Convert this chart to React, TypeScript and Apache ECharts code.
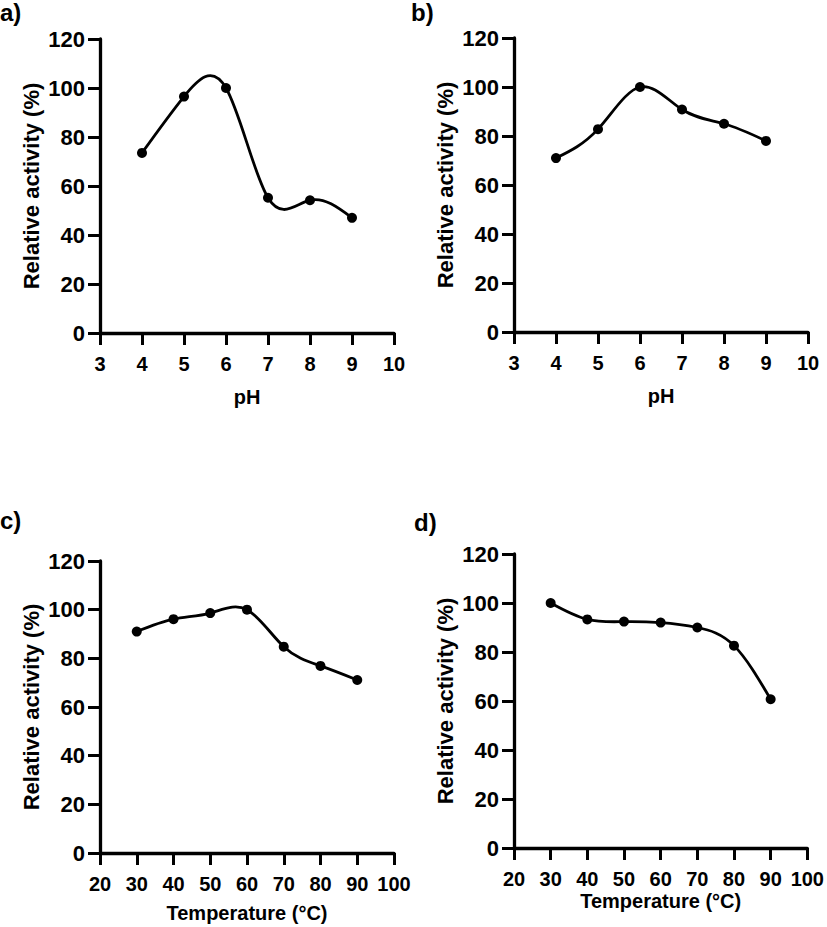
import React, { useEffect, useRef } from "react";
import * as echarts from "echarts";

const phValues = [4, 5, 6, 7, 8, 9];
const phActivityA = [73.5, 96.5, 100, 55.2, 54.2, 47];
const phActivityB = [71, 82.8, 100, 90.8, 85, 78];
const tempValues = [30, 40, 50, 60, 70, 80, 90];
const tempActivityC = [91, 96.1, 98.6, 100, 84.8, 76.9, 71.1];
const tempActivityD = [100, 93.3, 92.4, 92, 90, 82.6, 60.7];
const yTicks = [0, 20, 40, 60, 80, 100, 120];
const panelLabels = ["a)", "b)", "c)", "d)"];
const xTitles = ["pH", "pH", "Temperature (°C)", "Temperature (°C)"];
const yTitle = "Relative activity (%)";

const FONT = "'Liberation Sans', Arial, sans-serif";

// Slopes of a natural cubic spline through (xs, ys) — used only to shape the
// connecting curve (like GraphPad's spline), drawn via the axis scales.
function splineSlopes(xs: number[], ys: number[]): number[] {
  const n = xs.length;
  const h: number[] = [];
  for (let i = 0; i < n - 1; i++) h.push(xs[i + 1] - xs[i]);
  const M = new Array(n).fill(0);
  if (n > 2) {
    const a: number[] = [], b: number[] = [], c: number[] = [], d: number[] = [];
    for (let i = 1; i < n - 1; i++) {
      a.push(h[i - 1]);
      b.push(2 * (h[i - 1] + h[i]));
      c.push(h[i]);
      d.push(6 * ((ys[i + 1] - ys[i]) / h[i] - (ys[i] - ys[i - 1]) / h[i - 1]));
    }
    const m = b.length;
    const cp = new Array(m).fill(0);
    const dp = new Array(m).fill(0);
    cp[0] = c[0] / b[0];
    dp[0] = d[0] / b[0];
    for (let i = 1; i < m; i++) {
      const den = b[i] - a[i] * cp[i - 1];
      cp[i] = c[i] / den;
      dp[i] = (d[i] - a[i] * dp[i - 1]) / den;
    }
    const sol = new Array(m).fill(0);
    sol[m - 1] = dp[m - 1];
    for (let i = m - 2; i >= 0; i--) sol[i] = dp[i] - cp[i] * sol[i + 1];
    for (let i = 0; i < m; i++) M[i + 1] = sol[i];
  }
  const slopes: number[] = [];
  for (let i = 0; i < n - 1; i++) {
    slopes.push((ys[i + 1] - ys[i]) / h[i] - (h[i] * (2 * M[i] + M[i + 1])) / 6);
  }
  slopes.push(
    (ys[n - 1] - ys[n - 2]) / h[n - 2] + (h[n - 2] * (M[n - 2] + 2 * M[n - 1])) / 6
  );
  return slopes;
}

export default function App() {
  const ref = useRef<HTMLDivElement>(null);
  useEffect(() => {
    if (!ref.current) return;
    const chart = echarts.init(ref.current, undefined, { renderer: "svg" });
    const grids = [
      { left: 100, top: 39, width: 294, height: 294 },
      { left: 514, top: 38, width: 294, height: 294 },
      { left: 100, top: 561, width: 294, height: 292 },
      { left: 514, top: 554, width: 294, height: 294 },
    ];
    const xRanges = [
      { min: 3, max: 10, interval: 1 },
      { min: 3, max: 10, interval: 1 },
      { min: 20, max: 100, interval: 10 },
      { min: 20, max: 100, interval: 10 },
    ];
    const xNameGaps = [54, 54, 50, 43];
    const panels = [
      { xs: phValues, ys: phActivityA },
      { xs: phValues, ys: phActivityB },
      { xs: tempValues, ys: tempActivityC },
      { xs: tempValues, ys: tempActivityD },
    ];
    const labelPos = [
      { x: 0, y: 0 },
      { x: 411, y: 0 },
      { x: 0, y: 508 },
      { x: 414, y: 510 },
    ];

    const curveSeries = panels.map((p, pi) => {
      const slopes = splineSlopes(p.xs, p.ys);
      return {
        type: "custom",
        xAxisIndex: pi,
        yAxisIndex: pi,
        silent: true,
        z: 2,
        data: p.xs.map((x, i) => [x, p.ys[i]]),
        renderItem: (params: any, api: any) => {
          const i = params.dataIndex;
          if (i >= p.xs.length - 1) return null;
          const x0 = p.xs[i], y0 = p.ys[i];
          const x1 = p.xs[i + 1], y1 = p.ys[i + 1];
          const hh = (x1 - x0) / 3;
          const a = api.coord([x0, y0]);
          const b = api.coord([x1, y1]);
          const c1 = api.coord([x0 + hh, y0 + slopes[i] * hh]);
          const c2 = api.coord([x1 - hh, y1 - slopes[i + 1] * hh]);
          return {
            type: "bezierCurve",
            shape: {
              x1: a[0], y1: a[1], x2: b[0], y2: b[1],
              cpx1: c1[0], cpy1: c1[1], cpx2: c2[0], cpy2: c2[1],
            },
            style: { stroke: "#000", lineWidth: 2.8, fill: "none" },
          };
        },
      };
    });
    const pointSeries = panels.map((p, pi) => ({
      type: "scatter",
      xAxisIndex: pi,
      yAxisIndex: pi,
      z: 3,
      data: p.xs.map((x, i) => [x, p.ys[i]]),
      symbol: "circle",
      symbolSize: 10,
      itemStyle: { color: "#000", opacity: 1 },
    }));

    const xAxes = xRanges.map((r, i) => ({
      type: "value",
      gridIndex: i,
      min: r.min,
      max: r.max,
      interval: r.interval,
      axisLine: { show: true, lineStyle: { color: "#000000", width: 3.3 } },
      axisTick: { show: true, length: 12, lineStyle: { color: "#000000", width: 3 } },
      splitLine: { show: false },
      axisLabel: { color: "#000", fontFamily: FONT, fontWeight: "bold", fontSize: 20, margin: 21 },
      name: xTitles[i],
      nameLocation: "middle",
      nameGap: xNameGaps[i],
      nameTextStyle: { color: "#000", fontFamily: FONT, fontWeight: "bold", fontSize: 20 },
    }));
    const yAxes = grids.map((_, i) => ({
      type: "value",
      gridIndex: i,
      min: yTicks[0],
      max: yTicks[yTicks.length - 1],
      interval: yTicks[1] - yTicks[0],
      axisLine: { show: true, lineStyle: { color: "#000000", width: 3.3 } },
      axisTick: { show: true, length: 12, lineStyle: { color: "#000000", width: 3 } },
      splitLine: { show: false },
      axisLabel: { color: "#000", fontFamily: FONT, fontWeight: "bold", fontSize: 22, margin: 15 },
      name: yTitle,
      nameLocation: "middle",
      nameGap: 58,
      nameRotate: 90,
      nameTextStyle: { color: "#000", fontFamily: FONT, fontWeight: "bold", fontSize: 22 },
    }));

    chart.setOption({
      animation: false,
      backgroundColor: "#fff",
      grid: grids,
      xAxis: xAxes,
      yAxis: yAxes,
      series: [...curveSeries, ...pointSeries],
      graphic: panelLabels.map((t, i) => ({
        type: "text",
        left: labelPos[i].x,
        top: labelPos[i].y,
        style: { text: t, fill: "#000", font: `bold 24px ${FONT}` },
      })),
    });
    return () => chart.dispose();
  }, []);
  return (
    <div
      ref={ref}
      style={{ position: "absolute", left: 0, top: 0, width: 827, height: 927 }}
    />
  );
}
